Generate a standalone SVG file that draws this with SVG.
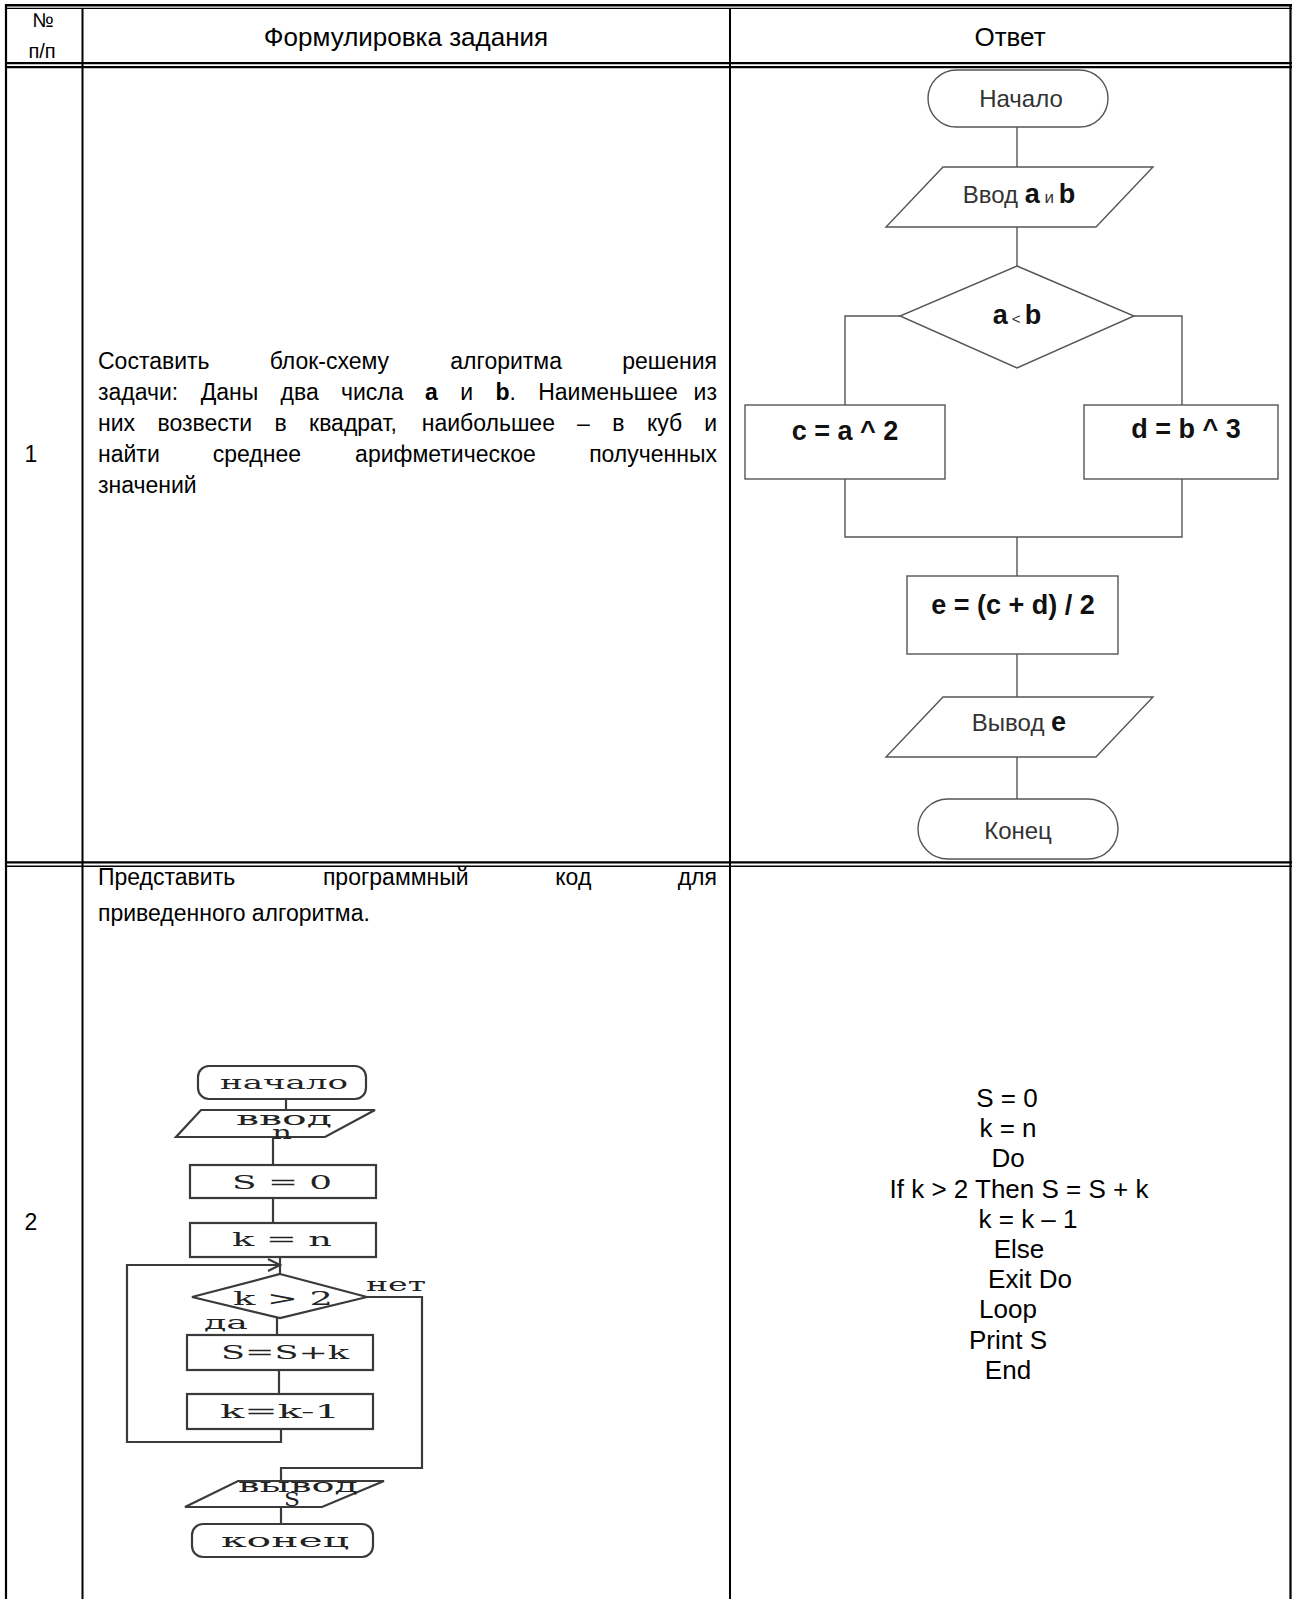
<svg xmlns="http://www.w3.org/2000/svg" width="1292" height="1599" viewBox="0 0 1292 1599">
<defs>
<style>
.t{font-family:"Liberation Sans",Arial,sans-serif;fill:#000}
.hdr{font-size:26px}
.hs{font-size:20px}
.body{font-size:23px}
.code{font-size:26px}
.fc{font-family:"Liberation Sans",Arial,sans-serif;font-size:24px;fill:#333}
.fcb{font-family:"Liberation Sans",Arial,sans-serif;font-size:27px;font-weight:bold;fill:#111}
.b{font-weight:bold}
.shape{fill:#fff;stroke:#555;stroke-width:1.4}
.conn{fill:none;stroke:#555;stroke-width:1.4}
.sshape{fill:#fff;stroke:#3a3a3a;stroke-width:2.2}
.sconn{fill:none;stroke:#3a3a3a;stroke-width:2.2}
.sm{font-family:"DejaVu Serif","Liberation Serif",serif;font-size:19px;fill:#222}
.grid{stroke:#000;fill:none}
</style>
</defs>
<rect x="0" y="0" width="1292" height="1599" fill="#fff"/>

<g id="table">
<line class="grid" x1="5" y1="5.2" x2="1292" y2="5.2" stroke-width="2.4"/>
<line class="grid" x1="5" y1="8.4" x2="1292" y2="8.4" stroke-width="1.2"/>
<line class="grid" x1="5" y1="63.2" x2="1292" y2="63.2" stroke-width="2.3"/>
<line class="grid" x1="5" y1="67.2" x2="1292" y2="67.2" stroke-width="2.3"/>
<line class="grid" x1="5" y1="862.3" x2="1292" y2="862.3" stroke-width="2.2"/>
<line class="grid" x1="5" y1="866.2" x2="1292" y2="866.2" stroke-width="1.5"/>
<line class="grid" x1="6" y1="4" x2="6" y2="1599" stroke-width="2.2"/>
<line class="grid" x1="1290.5" y1="4" x2="1290.5" y2="1599" stroke-width="2.2"/>
<line class="grid" x1="82.5" y1="8" x2="82.5" y2="1599" stroke-width="2"/>
<line class="grid" x1="730" y1="8" x2="730" y2="1599" stroke-width="2"/>
</g>

<g id="header">
<text class="t hs" x="43" y="27" text-anchor="middle">№</text>
<text class="t hs" x="42" y="58" text-anchor="middle">п/п</text>
<text class="t hdr" x="406" y="46" text-anchor="middle">Формулировка задания</text>
<text class="t hdr" x="1010" y="46" text-anchor="middle">Ответ</text>
</g>

<g id="row1-text">
<text class="t body" x="31" y="462" text-anchor="middle">1</text>
<text class="t body" y="369"><tspan x="98">Составить</tspan><tspan x="269.7">блок-схему</tspan><tspan x="450.3">алгоритма</tspan><tspan x="717" text-anchor="end">решения</tspan></text>
<text class="t body" y="400"><tspan x="98">задачи:</tspan><tspan x="200.7">Даны</tspan><tspan x="280.5">два</tspan><tspan x="341">числа</tspan><tspan x="425.1" class="b">a</tspan><tspan x="460.2">и</tspan><tspan x="495.4" class="b">b</tspan><tspan>.</tspan><tspan x="538.2">Наименьшее</tspan><tspan x="717" text-anchor="end">из</tspan></text>
<text class="t body" y="431"><tspan x="98">них</tspan><tspan x="157.5">возвести</tspan><tspan x="274.5">в</tspan><tspan x="309.1">квадрат,</tspan><tspan x="421.7">наибольшее</tspan><tspan x="577.1">–</tspan><tspan x="612.3">в</tspan><tspan x="646.9">куб</tspan><tspan x="717" text-anchor="end">и</tspan></text>
<text class="t body" y="462"><tspan x="98">найти</tspan><tspan x="212.8">среднее</tspan><tspan x="355.1">арифметическое</tspan><tspan x="717" text-anchor="end">полученных</tspan></text>
<text class="t body" x="98" y="493">значений</text>
</g>

<g id="flowchart1-connectors">
<line class="conn" x1="1017" y1="127" x2="1017" y2="167"/>
<line class="conn" x1="1017" y1="227" x2="1017" y2="266"/>
<polyline class="conn" points="900,316 845,316 845,405"/>
<polyline class="conn" points="1134,316 1182,316 1182,405"/>
<polyline class="conn" points="845,479 845,537 1182,537 1182,479"/>
<line class="conn" x1="1017" y1="537" x2="1017" y2="576"/>
<line class="conn" x1="1017" y1="654" x2="1017" y2="697"/>
<line class="conn" x1="1017" y1="757" x2="1017" y2="799"/>
</g>

<g id="fc1-start">
<rect class="shape" x="928" y="70" width="180" height="57" rx="28.5"/>
<text class="fc" x="1021" y="107" text-anchor="middle">Начало</text>
</g>
<g id="fc1-input">
<polygon class="shape" points="943,167 1153,167 1096,227 886,227"/>
<text x="1019" y="203" text-anchor="middle"><tspan class="fc">Ввод </tspan><tspan class="fcb">a</tspan><tspan class="fc" style="font-size:17px"> и </tspan><tspan class="fcb">b</tspan></text>
</g>
<g id="fc1-decision">
<polygon class="shape" points="1017,266 1134,316 1017,368 900,316"/>
<text x="1017" y="324" text-anchor="middle"><tspan class="fcb">a</tspan><tspan class="fc" style="font-size:15px"> &lt; </tspan><tspan class="fcb">b</tspan></text>
</g>
<g id="fc1-c">
<rect class="shape" x="745" y="405" width="200" height="74"/>
<text class="fcb" x="845" y="440" text-anchor="middle">c = a ^ 2</text>
</g>
<g id="fc1-d">
<rect class="shape" x="1084" y="405" width="194" height="74"/>
<text class="fcb" x="1186" y="438" text-anchor="middle">d = b ^ 3</text>
</g>
<g id="fc1-e">
<rect class="shape" x="907" y="576" width="211" height="78"/>
<text class="fcb" x="1013" y="614" text-anchor="middle">e = (c + d) / 2</text>
</g>
<g id="fc1-output">
<polygon class="shape" points="943,697 1153,697 1096,757 886,757"/>
<text x="1019" y="731" text-anchor="middle"><tspan class="fc">Вывод </tspan><tspan class="fcb">e</tspan></text>
</g>
<g id="fc1-end">
<rect class="shape" x="918" y="799" width="200" height="60" rx="30"/>
<text class="fc" x="1018" y="839" text-anchor="middle">Конец</text>
</g>

<g id="row2-text">
<text class="t body" x="31" y="1230" text-anchor="middle">2</text>
<text class="t body" y="885"><tspan x="98">Представить</tspan><tspan x="322.9">программный</tspan><tspan x="555.3">код</tspan><tspan x="717" text-anchor="end">для</tspan></text>
<text class="t body" x="98" y="921">приведенного алгоритма.</text>
</g>

<g id="fc2-connectors">
<line class="sconn" x1="286" y1="1099" x2="286" y2="1110"/>
<line class="sconn" x1="273" y1="1137" x2="273" y2="1165"/>
<line class="sconn" x1="273" y1="1198" x2="273" y2="1223"/>
<line class="sconn" x1="280" y1="1257" x2="280" y2="1274"/>
<polyline class="sconn" points="281,1429 281,1442 127,1442 127,1265 280,1265"/>
<polyline class="sconn" points="268,1259 280,1265 268,1271"/>
<polyline class="sconn" points="367,1297 422,1297 422,1468 281,1468 281,1481"/>
<line class="sconn" x1="277" y1="1318" x2="277" y2="1335"/>
<line class="sconn" x1="279" y1="1370" x2="279" y2="1394"/>
<line class="sconn" x1="281" y1="1507" x2="281" y2="1524"/>
</g>

<g id="fc2-start">
<rect class="sshape" x="198" y="1066" width="168" height="33" rx="11"/>
<text class="sm" x="284" y="1089" text-anchor="middle" textLength="128" lengthAdjust="spacingAndGlyphs">начало</text>
</g>
<g id="fc2-input">
<polygon class="sshape" points="201,1110 375,1110 325,1137 176,1137"/>
<text class="sm" x="284" y="1125" text-anchor="middle" textLength="96" lengthAdjust="spacingAndGlyphs">ввод</text>
<text class="sm" x="282" y="1139" text-anchor="middle" textLength="20" lengthAdjust="spacingAndGlyphs">n</text>
</g>
<g id="fc2-s0">
<rect class="sshape" x="190" y="1165" width="186" height="33"/>
<text class="sm" x="282" y="1189" text-anchor="middle" textLength="100" lengthAdjust="spacingAndGlyphs">S = 0</text>
</g>
<g id="fc2-kn">
<rect class="sshape" x="190" y="1223" width="186" height="34"/>
<text class="sm" x="282" y="1246" text-anchor="middle" textLength="100" lengthAdjust="spacingAndGlyphs">k = n</text>
</g>
<g id="fc2-decision">
<polygon class="sshape" points="280,1274 367,1297 280,1318 192,1297"/>
<text class="sm" x="283" y="1305" text-anchor="middle" textLength="100" lengthAdjust="spacingAndGlyphs">k &gt; 2</text>
<text class="sm" x="396" y="1291" text-anchor="middle" textLength="60" lengthAdjust="spacingAndGlyphs">нет</text>
<text class="sm" x="226" y="1329" text-anchor="middle" textLength="44" lengthAdjust="spacingAndGlyphs">да</text>
</g>
<g id="fc2-ssk">
<rect class="sshape" x="187" y="1335" width="186" height="35"/>
<text class="sm" x="285" y="1359" text-anchor="middle" textLength="128" lengthAdjust="spacingAndGlyphs">S=S+k</text>
</g>
<g id="fc2-kk">
<rect class="sshape" x="187" y="1394" width="186" height="35"/>
<text class="sm" x="280" y="1418" text-anchor="middle" textLength="120" lengthAdjust="spacingAndGlyphs">k=k-1</text>
</g>
<g id="fc2-output">
<polygon class="sshape" points="238,1481 384,1481 322,1507 185,1507"/>
<text class="sm" x="298" y="1492" text-anchor="middle" textLength="120" lengthAdjust="spacingAndGlyphs">вывод</text>
<text class="sm" x="292" y="1506" text-anchor="middle" textLength="16" lengthAdjust="spacingAndGlyphs">S</text>
</g>
<g id="fc2-end">
<rect class="sshape" x="192" y="1524" width="181" height="33" rx="11"/>
<text class="sm" x="285" y="1547" text-anchor="middle" textLength="128" lengthAdjust="spacingAndGlyphs">конец</text>
</g>

<g id="code">
<text class="t code" x="1007" y="1107" text-anchor="middle">S = 0</text>
<text class="t code" x="1008" y="1137" text-anchor="middle">k = n</text>
<text class="t code" x="1008" y="1167" text-anchor="middle">Do</text>
<text class="t code" x="1019" y="1198" text-anchor="middle">If k &gt; 2 Then S = S + k</text>
<text class="t code" x="1028" y="1228" text-anchor="middle">k = k – 1</text>
<text class="t code" x="1019" y="1258" text-anchor="middle">Else</text>
<text class="t code" x="1030" y="1288" text-anchor="middle">Exit Do</text>
<text class="t code" x="1008" y="1318" text-anchor="middle">Loop</text>
<text class="t code" x="1008" y="1349" text-anchor="middle">Print S</text>
<text class="t code" x="1008" y="1379" text-anchor="middle">End</text>
</g>
</svg>
